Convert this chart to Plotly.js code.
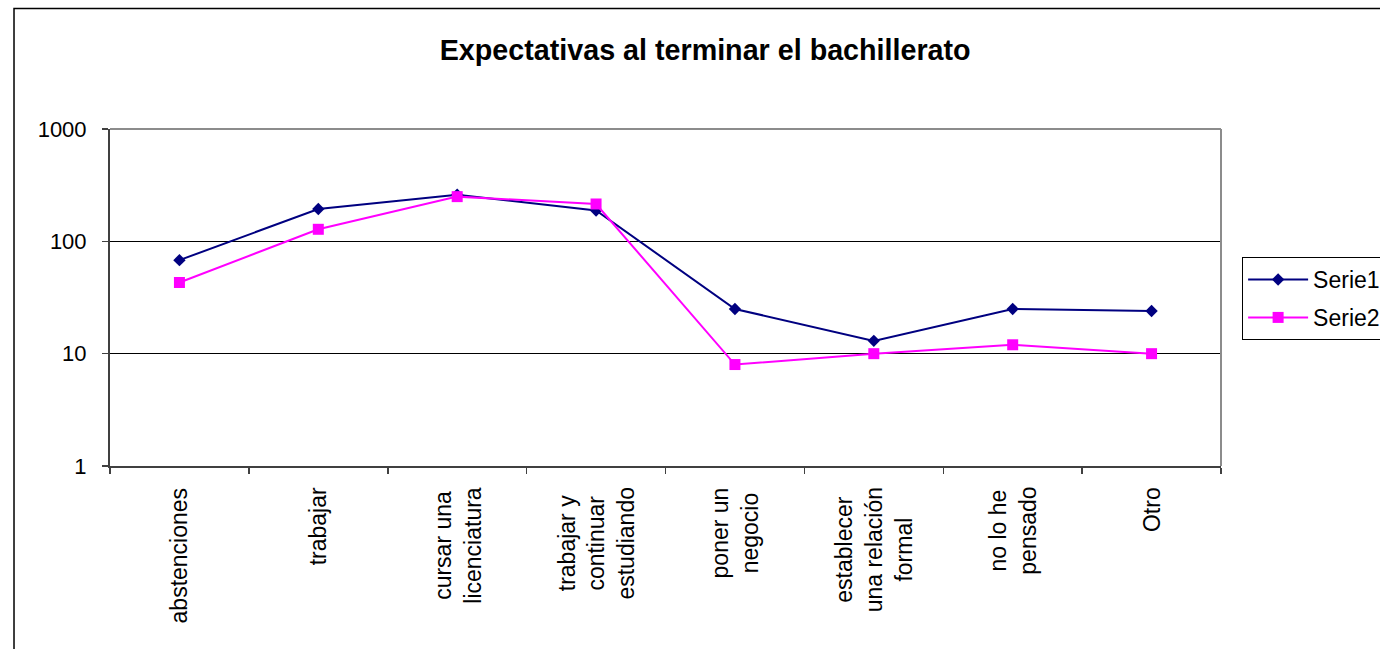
<!DOCTYPE html>
<html>
<head>
<meta charset="utf-8">
<script src="https://cdn.plot.ly/plotly-3.0.1.min.js"></script>
<style>
  html, body { margin: 0; padding: 0; background: #fff; }
  #chart { width: 1380px; height: 649px; }
</style>
</head>
<body>
<div id="chart"></div>
<script>
// Categories (multi-line labels use <br>)
const categories = [
  "abstenciones",
  "trabajar",
  "cursar una<br>licenciatura",
  "trabajar y<br>continuar<br>estudiando",
  "poner un<br>negocio",
  "establecer<br>una relación<br>formal",
  "no lo he<br>pensado",
  "Otro"
];
const categoryKeys = ["c1", "c2", "c3", "c4", "c5", "c6", "c7", "c8"];

const serie1 = [68, 194, 260, 188, 25, 13, 25, 24];
const serie2 = [43, 128, 250, 215, 8, 10, 12, 10];

const yTickVals = [1, 10, 100, 1000];
const yTickText = ["1", "10", "100", "1000"];

const FONT = "Arial, 'Liberation Sans', sans-serif";

const traces = [
  {
    type: "scatter", mode: "lines+markers", name: "Serie1",
    x: categoryKeys, y: serie1, legendgroup: "s1",
    line: { color: "#000080", width: 2 },
    marker: { symbol: "diamond", size: 9.5, color: "#000080" }
  },
  {
    type: "scatter", mode: "lines+markers", name: "Serie2",
    x: categoryKeys, y: serie2, legendgroup: "s2",
    line: { color: "#FF00FF", width: 2 },
    marker: { symbol: "square", size: 11, color: "#FF00FF" }
  }
];

// Rotated, centre-aligned category labels below the axis
const labelAnnotations = categoryKeys.map((k, i) => ({
  x: k, xref: "x",
  y: 0, yref: "paper",
  yanchor: "top", xanchor: "center",
  yshift: -19,
  text: categories[i],
  textangle: -90,
  align: "center",
  showarrow: false,
  font: { family: FONT, size: 23, color: "#000" }
}));

const layout = {
  width: 1380, height: 649,
  margin: { l: 110, r: 159, t: 129, b: 183, pad: 0, autoexpand: false },
  paper_bgcolor: "#fff", plot_bgcolor: "#fff",
  showlegend: true,
  title: {
    text: "<b>Expectativas al terminar el bachillerato</b>",
    font: { family: FONT, size: 28.7, color: "#000" },
    xref: "container", x: 0.511, xanchor: "center",
    yref: "container", y: 0.923, yanchor: "middle"
  },
  xaxis: {
    type: "category",
    range: [-0.5, 7.5],
    showticklabels: false,
    ticks: "outside", ticklen: 6, tickwidth: 1.5, tickcolor: "#404040",
    tickson: "boundaries",
    showline: true, linecolor: "#404040", linewidth: 2,
    showgrid: false, zeroline: false,
    fixedrange: true
  },
  yaxis: {
    type: "log",
    range: [0, 3],
    tickvals: yTickVals, ticktext: yTickText,
    ticks: "outside", ticklen: 6, tickwidth: 1.5, tickcolor: "#404040",
    ticklabelstandoff: 11,
    tickfont: { family: FONT, size: 22, color: "#000" },
    showline: true, linecolor: "#404040", linewidth: 2,
    showgrid: true, gridcolor: "#000", gridwidth: 1,
    zeroline: false, fixedrange: true
  },
  legend: {
    x: 1.019, xanchor: "left",
    y: 0.62, yanchor: "top",
    bgcolor: "#fff", bordercolor: "#000", borderwidth: 1,
    font: { family: FONT, size: 23, color: "#000" },
    tracegroupgap: 5,
    itemwidth: 60
  },
  annotations: labelAnnotations,
  shapes: [
    // plot area frame: top and right edges
    { type: "line", xref: "paper", yref: "paper", x0: 0, x1: 1, y0: 1, y1: 1,
      line: { color: "#8c8c8c", width: 2 }, layer: "above" },
    { type: "line", xref: "paper", yref: "paper", x0: 1, x1: 1, y0: 0, y1: 1,
      line: { color: "#8c8c8c", width: 2 }, layer: "above" },
    // outer chart frame
    { type: "rect", xref: "paper", yref: "paper",
      x0: -0.0864, x1: 1.4, y0: -0.7, y1: 1.3576,
      line: { color: "#000", width: 1.5 }, layer: "above" }
  ]
};

Plotly.newPlot("chart", traces, layout, { staticPlot: true, displayModeBar: false });
</script>
</body>
</html>
